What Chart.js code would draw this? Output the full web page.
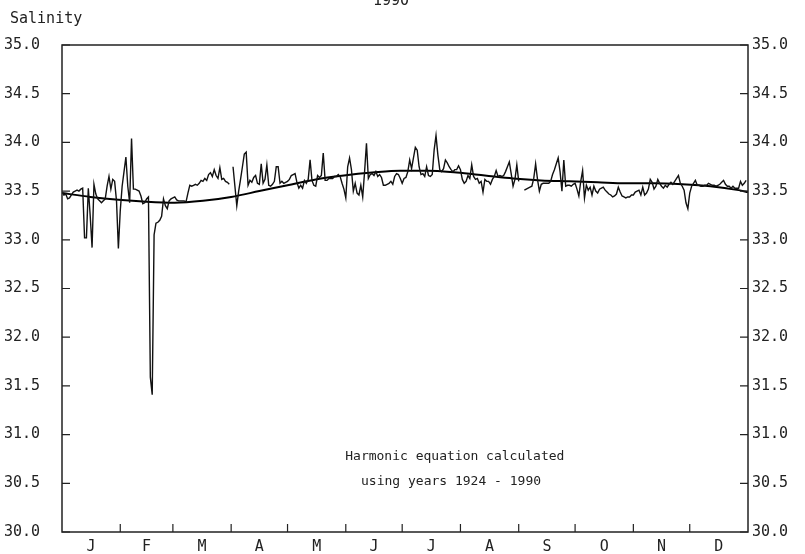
<!DOCTYPE html>
<html>
<head>
<meta charset="utf-8">
<script src="https://cdn.jsdelivr.net/npm/chart.js@4.4.0/dist/chart.umd.min.js"></script>
<style>
  html, body { margin: 0; padding: 0; background: #fff; }
</style>
</head>
<body>
<canvas id="salChart" width="805" height="554"></canvas>
<script>
// daily surface salinity for 1990, one value per day of year (null = no sample)
const salinity = [
  33.49, 33.46, 33.47, 33.42, 33.43, 33.46, 33.49, 33.50, 33.51, 33.50,
  33.52, 33.53, 33.02, 33.02, 33.53, 33.25, 32.92, 33.57, 33.47, 33.42,
  33.40, 33.38, 33.40, 33.42, 33.55, 33.65, 33.52, 33.62, 33.60, 33.40,
  32.91, 33.30, 33.55, 33.70, 33.85, 33.55, 33.38, 34.04, 33.52, 33.52,
  33.51, 33.50, 33.45, 33.37, 33.38, 33.42, 33.44, 31.59, 31.41, 33.05,
  33.17, 33.18, 33.20, 33.24, 33.42, 33.35, 33.32, 33.40, 33.42, 33.43,
  33.44, 33.41, 33.40, 33.40, 33.40, 33.40, 33.39, 33.48, 33.56, 33.55,
  33.56, 33.57, 33.56, 33.58, 33.61, 33.60, 33.63, 33.61, 33.67, 33.69,
  33.65, 33.72, 33.66, 33.63, 33.74, 33.62, 33.63, 33.60, 33.59, 33.57,
  null,  33.75, 33.55, 33.35, 33.50, 33.62, 33.75, 33.88, 33.90, 33.56,
  33.61, 33.59, 33.64, 33.66, 33.58, 33.57, 33.78, 33.58, 33.62, 33.77,
  33.56, 33.55, 33.57, 33.60, 33.75, 33.75, 33.58, 33.60, 33.58, 33.59,
  33.60, 33.62, 33.66, 33.67, 33.68, 33.59, 33.53, 33.56, 33.53, 33.61,
  33.58, 33.62, 33.82, 33.61, 33.56, 33.55, 33.66, 33.64, 33.66, 33.89,
  33.61, 33.61, 33.63, 33.63, 33.63, 33.65, 33.65, 33.67, 33.65, 33.58,
  33.52, 33.43, 33.75, 33.84, 33.72, 33.50, 33.58, 33.48, 33.46, 33.56,
  33.44, 33.70, 33.99, 33.63, 33.67, 33.68, 33.66, 33.70, 33.65, 33.67,
  33.64, 33.56, 33.56, 33.57, 33.58, 33.60, 33.57, 33.65, 33.68, 33.67,
  33.63, 33.58, 33.63, 33.64, 33.70, 33.82, 33.73, 33.84, 33.95, 33.92,
  33.75, 33.67, 33.68, 33.65, 33.75, 33.66, 33.65, 33.67, 33.92, 34.07,
  33.87, 33.72, 33.70, 33.73, 33.82, 33.79, 33.75, 33.72, 33.70, 33.72,
  33.72, 33.76, 33.72, 33.62, 33.58, 33.60, 33.66, 33.63, 33.77, 33.65,
  33.62, 33.63, 33.58, 33.60, 33.49, 33.62, 33.60, 33.60, 33.57, 33.62,
  33.65, 33.71, 33.65, 33.66, 33.65, 33.66, 33.70, 33.75, 33.80, 33.68,
  33.55, 33.62, 33.77, 33.60, null,  null,  33.51, 33.52, 33.53, 33.54,
  33.55, 33.63, 33.78, 33.62, 33.50, 33.57, 33.58, 33.58, 33.58, 33.58,
  33.60, 33.67, 33.72, 33.78, 33.84, 33.70, 33.50, 33.82, 33.55, 33.56,
  33.56, 33.55, 33.57, 33.58, 33.52, 33.45, 33.60, 33.71, 33.43, 33.56,
  33.51, 33.54, 33.46, 33.55, 33.50, 33.48, 33.52, 33.53, 33.54, 33.51,
  33.49, 33.47, 33.46, 33.44, 33.45, 33.47, 33.54, 33.49, 33.45, 33.44,
  33.43, 33.44, 33.44, 33.46, 33.46, 33.49, 33.50, 33.51, 33.46, 33.54,
  33.46, 33.48, 33.52, 33.62, 33.59, 33.52, 33.55, 33.62, 33.58, 33.55,
  33.53, 33.56, 33.54, 33.57, 33.59, 33.57, 33.60, 33.63, 33.66, 33.58,
  33.55, 33.51, 33.38, 33.32, 33.48, 33.55, 33.58, 33.61, 33.56, 33.56,
  33.55, 33.55, 33.56, 33.56, 33.58, 33.57, 33.56, 33.56, 33.55, 33.56,
  33.57, 33.59, 33.61, 33.57, 33.55, 33.55, 33.53, 33.55, 33.53, 33.53,
  33.53, 33.60, 33.56, 33.58, 33.61
];

// harmonic fit (1924-1990), sampled every 15 days
const harmonicDays = [0, 15, 30, 45, 60, 75, 90, 105, 120, 135, 150, 165, 180,
                      195, 210, 225, 240, 255, 270, 285, 300, 315, 330, 345, 360, 365];
const harmonicVals = [33.48, 33.44, 33.41, 33.39, 33.38, 33.40, 33.44, 33.50, 33.56,
                      33.62, 33.66, 33.69, 33.71, 33.71, 33.69, 33.66, 33.63, 33.61,
                      33.60, 33.59, 33.58, 33.58, 33.57, 33.55, 33.51, 33.49];

const monthLabels = ["J", "F", "M", "A", "M", "J", "J", "A", "S", "O", "N", "D"];
const monthStarts = [0, 31, 59, 90, 120, 151, 181, 212, 243, 273, 304, 334, 365];
const yTicks = [30, 30.5, 31, 31.5, 32, 32.5, 33, 33.5, 34, 34.5, 35];
const noteLines = ["Harmonic equation calculated", "using years 1924 - 1990"];

const monthMids = monthStarts.slice(0, -1).map((d, i) => (d + monthStarts[i + 1]) / 2);

const ink = "#222";
const mono = "DejaVu Sans Mono";

// box, inward ticks, month letters and the loose text
const framePlugin = {
  id: "frame",
  afterDatasetsDraw(chart) {
    const { ctx, chartArea: a, scales } = chart;
    ctx.save();
    ctx.strokeStyle = ink;
    ctx.lineWidth = 1.5;
    ctx.strokeRect(a.left, a.top, a.right - a.left, a.bottom - a.top);

    ctx.lineWidth = 1.2;
    ctx.beginPath();
    yTicks.forEach(v => {
      const y = scales.y.getPixelForValue(v);
      ctx.moveTo(a.left, y); ctx.lineTo(a.left + 8, y);
      ctx.moveTo(a.right, y); ctx.lineTo(a.right - 8, y);
    });
    monthStarts.slice(1, -1).forEach(d => {
      const x = scales.x.getPixelForValue(d);
      ctx.moveTo(x, a.bottom); ctx.lineTo(x, a.bottom - 8);
    });
    ctx.stroke();

    ctx.fillStyle = ink;
    ctx.font = "15px '" + mono + "'";
    ctx.textBaseline = "middle";
    ctx.textAlign = "center";
    monthMids.forEach((d, i) => {
      ctx.fillText(monthLabels[i], scales.x.getPixelForValue(d), a.bottom + 15);
    });
    ctx.fillText("1990", 391, 1);
    ctx.textAlign = "left";
    ctx.fillText("Salinity", 10, 19);

    ctx.font = "13px '" + mono + "'";
    ctx.textAlign = "center";
    ctx.fillText(noteLines[0], scales.x.getPixelForValue(209), scales.y.getPixelForValue(30.77));
    ctx.fillText(noteLines[1], scales.x.getPixelForValue(207), scales.y.getPixelForValue(30.52));
    ctx.restore();
  }
};

const tickFont = { family: mono, size: 15 };

// fixed axis width, and no extra vertical padding from the tick labels
const fitAxis = w => s => { s.width = w; s.paddingTop = 0; s.paddingBottom = 0; };

const salChart = new Chart(document.getElementById("salChart"), {
  type: "line",
  data: {
    datasets: [
      {
        label: "Salinity 1990",
        data: salinity.map((v, i) => ({ x: i, y: v })),
        borderColor: "#111",
        borderWidth: 1.4,
        pointRadius: 0,
        spanGaps: false,
        tension: 0
      },
      {
        label: "Harmonic",
        data: harmonicDays.map((d, i) => ({ x: d, y: harmonicVals[i] })),
        borderColor: "#000",
        borderWidth: 2,
        pointRadius: 0,
        cubicInterpolationMode: "monotone"
      }
    ]
  },
  options: {
    responsive: false,
    animation: false,
    layout: { padding: { top: 45, left: 0, right: 0, bottom: 22 } },
    plugins: { legend: { display: false }, tooltip: { enabled: false } },
    scales: {
      x: {
        type: "linear",
        min: 0,
        max: 365,
        display: false
      },
      y: {
        position: "left",
        min: 30,
        max: 35,
        afterBuildTicks: s => { s.ticks = yTicks.map(v => ({ value: v })); },
        afterFit: fitAxis(62),
        grid: { display: false, drawTicks: false },
        border: { display: false },
        ticks: { padding: 22, color: ink, font: tickFont, callback: v => v.toFixed(1) }
      },
      y2: {
        position: "right",
        min: 30,
        max: 35,
        afterBuildTicks: s => { s.ticks = yTicks.map(v => ({ value: v })); },
        afterFit: fitAxis(57),
        grid: { display: false, drawTicks: false },
        border: { display: false },
        ticks: { padding: 4, color: ink, font: tickFont, callback: v => v.toFixed(1) }
      }
    }
  },
  plugins: [framePlugin]
});
</script>
</body>
</html>
